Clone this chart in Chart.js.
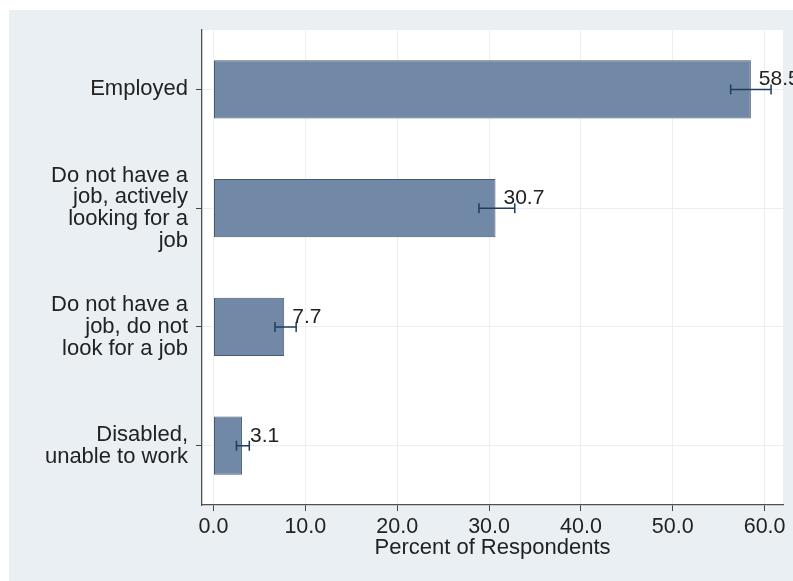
<!DOCTYPE html>
<html>
<head>
<meta charset="utf-8">
<script src="https://cdn.jsdelivr.net/npm/chart.js@4/dist/chart.umd.min.js"></script>
<style>
  html, body { margin: 0; padding: 0; background: #ffffff; }
  #wrap { width: 793px; height: 581px; position: relative; }
</style>
</head>
<body>
<div id="wrap"><canvas id="c" width="793" height="581"></canvas></div>
<script>
// Employment status of respondents, percent with confidence intervals
const categories = [
  'Employed',
  ['Do not have a', 'job, actively', 'looking for a', 'job'],
  ['Do not have a', 'job, do not', 'look for a job'],
  ['Disabled,', 'unable to work']
];
const percents = [58.5, 30.7, 7.7, 3.1];
const ciLower  = [56.3, 28.9, 6.7, 2.5];
const ciUpper  = [60.7, 32.8, 9.0, 3.9];
const xTicks   = [0, 10, 20, 30, 40, 50, 60];

const FONT = "'Liberation Sans', Arial, Helvetica, sans-serif";
const TEXT = '#222222';

// graph region and plot region backgrounds
const backgroundPlugin = {
  id: 'regions',
  beforeDraw(chart) {
    const { ctx, width, height, chartArea } = chart;
    ctx.save();
    ctx.fillStyle = '#ffffff';
    ctx.fillRect(0, 0, width, height);
    ctx.fillStyle = '#e9eff2';
    ctx.fillRect(9, 10, width - 9, height - 10);
    ctx.fillStyle = '#ffffff';
    ctx.fillRect(chartArea.left, chartArea.top,
                 chartArea.right - chartArea.left, chartArea.bottom - chartArea.top);
    ctx.restore();
  }
};

// confidence-interval whiskers and value labels at the end of each bar
const ciPlugin = {
  id: 'ciBars',
  afterDatasetsDraw(chart) {
    const { ctx } = chart;
    const xs = chart.scales.x;
    const bars = chart.getDatasetMeta(0).data;
    ctx.save();
    bars.forEach((bar, i) => {
      const y = bar.y;
      const x1 = xs.getPixelForValue(ciLower[i]);
      const x2 = xs.getPixelForValue(ciUpper[i]);
      ctx.strokeStyle = '#1f3c5e';
      ctx.lineWidth = 1.5;
      ctx.beginPath();
      ctx.moveTo(x1, y); ctx.lineTo(x2, y);
      ctx.moveTo(x1, y - 5); ctx.lineTo(x1, y + 5);
      ctx.moveTo(x2, y - 5); ctx.lineTo(x2, y + 5);
      ctx.stroke();

      ctx.fillStyle = TEXT;
      ctx.font = '21px ' + FONT;
      ctx.textAlign = 'left';
      ctx.textBaseline = 'alphabetic';
      ctx.fillText(percents[i].toFixed(1), bar.x + 8, y - 4);
    });
    ctx.restore();
  }
};

new Chart(document.getElementById('c'), {
  type: 'bar',
  data: {
    labels: categories,
    datasets: [{
      data: percents,
      backgroundColor: '#7189a6',
      borderColor: '#46596e',
      borderWidth: 1,
      borderSkipped: false,
      barPercentage: 0.49,
      categoryPercentage: 1.0
    }]
  },
  options: {
    indexAxis: 'y',
    responsive: false,
    animation: false,
    devicePixelRatio: 1,
    layout: { padding: { left: 0, right: 10, top: 30, bottom: 0 } },
    plugins: {
      legend: { display: false },
      tooltip: { enabled: false }
    },
    scales: {
      x: {
        type: 'linear',
        min: -1.25,
        max: 62,
        afterBuildTicks(scale) { scale.ticks = xTicks.map(v => ({ value: v })); },
        afterFit(scale) {
          scale.height = 76;
          scale.paddingLeft = 0; scale.paddingRight = 0;
        },
        grid: { color: '#eceff1', lineWidth: 1, tickColor: '#444', tickLength: 6 },
        border: { display: true, color: '#505050', width: 1.3 },
        ticks: {
          color: TEXT, font: { family: FONT, size: 21.5 }, padding: 3, maxRotation: 0,
          callback: v => Number(v).toFixed(1)
        },
        title: {
          display: true, text: 'Percent of Respondents', color: TEXT,
          font: { family: FONT, size: 22 }, padding: { top: 0, bottom: 20 }
        }
      },
      y: {
        type: 'category',
        offset: true,
        afterFit(scale) {
          scale.width = 202;
          scale.paddingTop = 0; scale.paddingBottom = 0;
        },
        grid: { offset: false, color: '#eceff1', lineWidth: 1, tickColor: '#444', tickLength: 6 },
        border: { display: true, color: '#505050', width: 1.3 },
        ticks: { color: TEXT, font: { family: FONT, size: 22, lineHeight: 0.99 }, padding: 8, autoSkip: false }
      }
    }
  },
  plugins: [backgroundPlugin, ciPlugin]
});
</script>
</body>
</html>
